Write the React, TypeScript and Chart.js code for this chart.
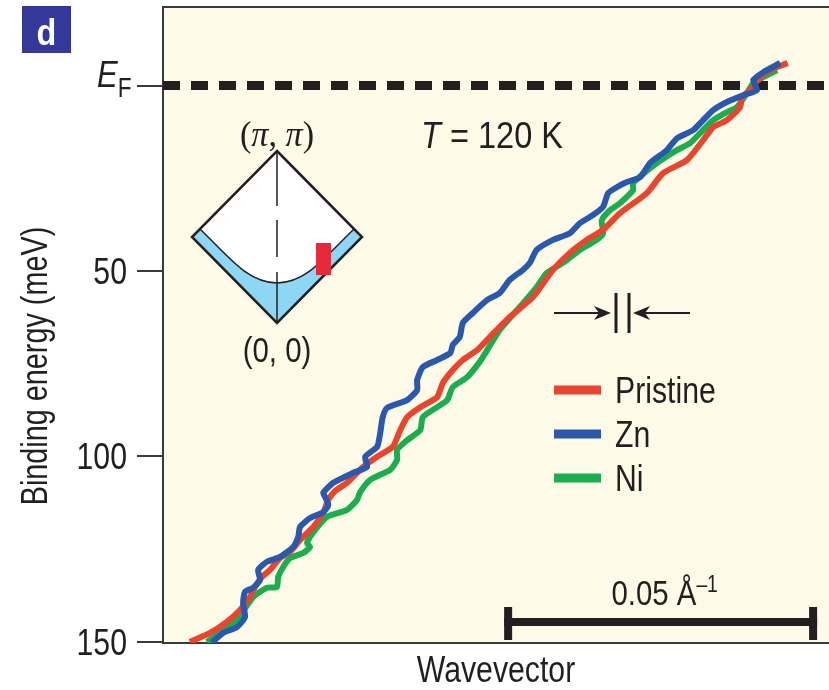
import React, { useEffect, useRef } from 'react';
import { Chart, registerables } from 'chart.js';

Chart.register(...registerables);

// Wavevector k in units of 1e-3 Å^-1 (arbitrary origin); binding energy in meV
const pristineK = [4.3, 7.5, 10.2, 12.3, 13.9, 14.7, 15.8, 17.1, 18.7, 20.3, 21.9, 24.0, 25.6, 26.4, 27.5, 29.4, 32.0, 34.2, 36.7, 37.9, 39.0, 41.1, 43.8, 44.7, 46.3, 47.9, 50.2, 52.2, 55.4, 59.1, 62.3, 65.0, 67.7, 70.3, 73.0, 77.3, 79.9, 83.7, 86.3, 87.9, 90.1, 92.2, 92.5, 93.8, 95.4, 97.0, 99.8];
const pristineE = [150.0, 147.6, 144.6, 141.4, 137.9, 135.2, 132.5, 130.6, 127.4, 125.7, 122.5, 119.0, 115.2, 111.7, 109.3, 107.1, 102.8, 100.1, 97.4, 92.9, 89.4, 86.7, 84.0, 80.2, 76.7, 74.0, 71.3, 67.8, 62.4, 57.0, 49.7, 45.1, 41.6, 38.9, 34.4, 29.0, 23.6, 20.1, 14.7, 11.2, 9.3, 5.8, 3.1, 1.2, -2.3, -4.2, -6.1];

const znK = [7.8, 9.6, 11.8, 13.1, 12.8, 13.1, 14.4, 15.5, 15.2, 16.6, 18.7, 20.8, 21.6, 21.9, 23.5, 25.6, 26.4, 25.9, 25.6, 27.2, 30.4, 32.6, 32.3, 34.2, 34.7, 35.1, 35.8, 39.0, 40.6, 40.6, 41.5, 43.8, 45.9, 46.3, 47.4, 47.9, 49.5, 51.8, 53.8, 55.4, 57.5, 58.6, 59.7, 62.3, 65.0, 66.6, 68.7, 70.3, 71.1, 72.5, 74.1, 76.2, 77.8, 80.5, 82.1, 84.7, 86.3, 87.9, 90.1, 92.7, 94.9, 94.3, 95.9, 98.6];
const znE = [150.2, 147.6, 146.0, 143.3, 139.5, 136.5, 135.4, 133.3, 130.6, 128.4, 127.1, 124.4, 121.7, 119.0, 116.6, 115.0, 113.1, 110.9, 109.8, 107.1, 104.4, 102.8, 100.1, 97.4, 93.7, 89.4, 86.9, 84.8, 82.1, 79.4, 75.9, 74.0, 72.1, 69.9, 67.8, 64.0, 61.3, 57.8, 55.9, 52.4, 49.7, 47.8, 44.3, 41.6, 39.8, 37.1, 34.9, 32.7, 29.0, 27.4, 26.0, 24.7, 20.9, 17.4, 14.2, 12.0, 9.3, 6.6, 4.4, 2.6, 1.2, -1.5, -3.6, -6.1];

const niK = [7.0, 9.1, 11.2, 12.6, 14.4, 16.6, 18.2, 18.4, 19.2, 20.3, 22.4, 23.5, 23.0, 24.3, 26.2, 29.4, 31.0, 31.5, 33.1, 36.3, 37.4, 37.4, 39.0, 41.1, 41.5, 43.8, 45.4, 46.3, 48.6, 50.6, 51.8, 53.8, 57.0, 59.7, 61.3, 63.9, 66.6, 69.3, 70.3, 70.1, 71.4, 73.0, 75.1, 75.1, 78.9, 82.1, 84.2, 85.8, 87.9, 89.8, 91.7, 93.3, 94.3, 95.9, 98.1];
const niE = [150.0, 147.6, 144.9, 142.2, 137.9, 135.4, 135.2, 132.5, 129.8, 127.4, 126.0, 124.4, 123.3, 119.8, 116.3, 114.4, 111.7, 109.6, 106.3, 103.6, 100.9, 98.2, 95.6, 92.9, 89.4, 86.7, 84.8, 81.3, 78.6, 74.5, 71.3, 65.9, 59.7, 54.3, 50.5, 47.8, 44.3, 41.6, 39.8, 36.3, 33.6, 31.7, 28.2, 26.3, 20.9, 17.4, 15.5, 12.8, 9.3, 7.4, 5.8, 2.0, -0.7, -2.3, -4.2];

const seriesNames = ['Pristine', 'Zn', 'Ni'];
const seriesColors = ['#e9442e', '#2a58ad', '#1cae4e'];
const yTicks = [0, 50, 100, 150];
const yTickLabels = ['', '50', '100', '150'];
const yMin = -21.2;
const yMax = 150.3;
const kMax = 106.4;
const scaleBarStart = 54.5; // 1e-3 Å^-1
const scaleBarLength = 50; // = 0.05 Å^-1

const SANS = "'Liberation Sans', Arial, sans-serif";
const SERIF = "'Liberation Serif', 'DejaVu Serif', serif";
const INK = '#231f20';
const SQUEEZE = 0.84; // condensed look

type Run = { text: string; font: string; dy?: number };

function drawRuns(
  ctx: CanvasRenderingContext2D,
  runs: Run[],
  x: number,
  y: number,
  align: 'left' | 'center' | 'right',
  sx: number = SQUEEZE,
  baseline: CanvasTextBaseline = 'alphabetic'
) {
  ctx.save();
  ctx.textAlign = 'left';
  ctx.textBaseline = baseline;
  const widths = runs.map((r) => {
    ctx.font = r.font;
    return ctx.measureText(r.text).width;
  });
  const total = widths.reduce((s, w) => s + w, 0);
  ctx.translate(x, y);
  ctx.scale(sx, 1);
  let cx = align === 'center' ? -total / 2 : align === 'right' ? -total : 0;
  runs.forEach((r, i) => {
    ctx.font = r.font;
    ctx.fillText(r.text, cx, r.dy || 0);
    cx += widths[i];
  });
  ctx.restore();
}

function drawInset(ctx: CanvasRenderingContext2D) {
  const cx = 277, cy = 237, hw = 85, hh = 86;
  ctx.save();
  ctx.beginPath();
  ctx.moveTo(cx, cy - hh);
  ctx.lineTo(cx + hw, cy);
  ctx.lineTo(cx, cy + hh);
  ctx.lineTo(cx - hw, cy);
  ctx.closePath();
  ctx.fillStyle = '#ffffff';
  ctx.fill();
  ctx.beginPath();
  ctx.moveTo(cx - 77, cy - 8);
  ctx.bezierCurveTo(cx - 47, cy + 21, cx - 29, cy + 46, cx, cy + 46);
  ctx.bezierCurveTo(cx + 29, cy + 46, cx + 47, cy + 21, cx + 77, cy - 8);
  ctx.lineTo(cx + hw, cy);
  ctx.lineTo(cx, cy + hh);
  ctx.lineTo(cx - hw, cy);
  ctx.closePath();
  ctx.fillStyle = '#8dd7f5';
  ctx.fill();
  ctx.beginPath();
  ctx.moveTo(cx - 77, cy - 8);
  ctx.bezierCurveTo(cx - 47, cy + 21, cx - 29, cy + 46, cx, cy + 46);
  ctx.bezierCurveTo(cx + 29, cy + 46, cx + 47, cy + 21, cx + 77, cy - 8);
  ctx.strokeStyle = INK;
  ctx.lineWidth = 1.5;
  ctx.stroke();
  ctx.lineWidth = 1.5;
  [[cy - hh, cy - 31], [cy - 17, cy + 20], [cy + 35, cy + hh]].forEach(([a, b]) => {
    ctx.beginPath();
    ctx.moveTo(cx, a);
    ctx.lineTo(cx, b);
    ctx.stroke();
  });
  ctx.beginPath();
  ctx.moveTo(cx, cy - hh);
  ctx.lineTo(cx + hw, cy);
  ctx.lineTo(cx, cy + hh);
  ctx.lineTo(cx - hw, cy);
  ctx.closePath();
  ctx.lineWidth = 2.5;
  ctx.lineJoin = 'miter';
  ctx.stroke();
  ctx.fillStyle = '#e52a3a';
  ctx.fillRect(cx + 39, cy + 6, 15, 32);
  ctx.fillStyle = INK;
  drawRuns(ctx, [
    { text: '(', font: `36px ${SERIF}` },
    { text: 'π', font: `italic 36px ${SERIF}` },
    { text: ', ', font: `36px ${SERIF}` },
    { text: 'π', font: `italic 36px ${SERIF}` },
    { text: ')', font: `36px ${SERIF}` },
  ], cx, cy - 91, 'center', 0.95);
  drawRuns(ctx, [{ text: '(0, 0)', font: `35px ${SANS}` }], cx, cy + 125, 'center');
  ctx.restore();
}

function arrowHead(ctx: CanvasRenderingContext2D, tipX: number, y: number, dir: number) {
  ctx.beginPath();
  ctx.moveTo(tipX, y);
  ctx.lineTo(tipX - dir * 17, y - 7);
  ctx.lineTo(tipX - dir * 12, y);
  ctx.lineTo(tipX - dir * 17, y + 7);
  ctx.closePath();
  ctx.fill();
}

const decorPlugin = {
  id: 'decor',
  beforeDraw(chart: any) {
    const { ctx, chartArea: a } = chart;
    ctx.save();
    ctx.fillStyle = '#fefae8';
    ctx.fillRect(a.left, a.top, a.right - a.left, a.bottom - a.top);
    ctx.restore();
  },
  beforeDatasetsDraw(chart: any) {
    const { ctx, chartArea: a, scales } = chart;
    const y0 = scales.y.getPixelForValue(0);
    ctx.save();
    ctx.strokeStyle = INK;
    ctx.lineWidth = 9;
    ctx.setLineDash([17, 11]);
    ctx.beginPath();
    ctx.moveTo(a.left, y0);
    ctx.lineTo(a.right, y0);
    ctx.stroke();
    ctx.restore();
    drawInset(ctx);
  },
  afterDraw(chart: any) {
    const { ctx, chartArea: a, scales } = chart;
    const ys = scales.y;
    const y0 = ys.getPixelForValue(0);
    ctx.save();
    ctx.strokeStyle = '#3a3a3a';
    ctx.lineWidth = 2;
    ctx.beginPath();
    ctx.moveTo(a.left, a.top);
    ctx.lineTo(a.right, a.top);
    ctx.stroke();

    // y tick labels from the scale's ticks
    ctx.fillStyle = INK;
    ys.ticks.forEach((t: any) => {
      const idx = yTicks.indexOf(t.value);
      const label = idx >= 0 ? yTickLabels[idx] : '';
      if (!label) return;
      drawRuns(ctx, [{ text: label, font: `36px ${SANS}` }], a.left - 36, ys.getPixelForValue(t.value) + 13, 'right');
    });

    // panel label
    ctx.fillStyle = '#34389b';
    ctx.fillRect(22, 6, 49, 47);
    ctx.fillStyle = '#ffffff';
    drawRuns(ctx, [{ text: 'd', font: `bold 36px ${SANS}` }], 46.5, 45, 'center', 0.9);

    ctx.fillStyle = INK;
    drawRuns(ctx, [
      { text: 'E', font: `italic 37px ${SANS}` },
      { text: 'F', font: `27px ${SANS}`, dy: 10 },
    ], 97, y0 + 1, 'left');

    drawRuns(ctx, [
      { text: 'T', font: `italic 37px ${SANS}` },
      { text: ' = 120 K', font: `37px ${SANS}` },
    ], 421, 148, 'left', 0.88);

    // resolution arrows
    ctx.strokeStyle = INK;
    ctx.lineWidth = 2;
    const ay = 313;
    ctx.beginPath();
    ctx.moveTo(554, ay);
    ctx.lineTo(600, ay);
    ctx.moveTo(690, ay);
    ctx.lineTo(645, ay);
    ctx.stroke();
    arrowHead(ctx, 611, ay, 1);
    arrowHead(ctx, 633, ay, -1);
    ctx.lineWidth = 3;
    ctx.beginPath();
    ctx.moveTo(616, 293);
    ctx.lineTo(616, 333);
    ctx.moveTo(629, 293);
    ctx.lineTo(629, 333);
    ctx.stroke();

    // legend
    seriesNames.forEach((name, i) => {
      const ly = 390 + 44 * i;
      ctx.strokeStyle = seriesColors[i];
      ctx.lineWidth = 9;
      ctx.beginPath();
      ctx.moveTo(554, ly);
      ctx.lineTo(601, ly);
      ctx.stroke();
      ctx.fillStyle = INK;
      drawRuns(ctx, [{ text: name, font: `36px ${SANS}` }], 615, ly + 13, 'left');
    });

    // scale bar
    const x0 = scales.x.getPixelForValue(scaleBarStart);
    const x1 = scales.x.getPixelForValue(scaleBarStart + scaleBarLength);
    ctx.fillStyle = INK;
    ctx.fillRect(x0, 618, x1 - x0, 8);
    ctx.fillRect(x0, 607, 8, 33);
    ctx.fillRect(x1 - 8, 607, 8, 33);
    drawRuns(ctx, [
      { text: '0.05 Å', font: `35px ${SANS}` },
      { text: '–1', font: `23px ${SANS}`, dy: -13 },
    ], (x0 + x1) / 2 + 4, 605, 'center');

    // axis titles
    drawRuns(ctx, [{ text: 'Wavevector', font: `36px ${SANS}` }], (a.left + a.right) / 2, 682, 'center');
    ctx.save();
    ctx.translate(37, 366);
    ctx.rotate(-Math.PI / 2);
    drawRuns(ctx, [{ text: 'Binding energy (meV)', font: `36px ${SANS}` }], 0, 0, 'center', 0.8, 'middle');
    ctx.restore();

    ctx.restore();
  },
};

function zip(k: number[], e: number[]) {
  return k.map((x, i) => ({ x, y: e[i] }));
}

export default function App() {
  const ref = useRef<HTMLCanvasElement | null>(null);
  useEffect(() => {
    if (!ref.current) return;
    const line = (i: number, k: number[], e: number[], order: number) => ({
      label: seriesNames[i],
      data: zip(k, e),
      borderColor: seriesColors[i],
      backgroundColor: seriesColors[i],
      borderWidth: 6,
      pointRadius: 0,
      tension: 0.2,
      fill: false,
      order,
    });
    const chart = new Chart(ref.current, {
      type: 'line',
      data: {
        datasets: [
          line(1, znK, znE, 0),
          line(0, pristineK, pristineE, 1),
          line(2, niK, niE, 2),
        ],
      },
      options: {
        responsive: false,
        animation: false,
        layout: { padding: { top: 7, left: 0, right: 0, bottom: 0 } },
        plugins: {
          legend: { display: false },
          tooltip: { enabled: false },
          title: { display: false },
        },
        scales: {
          x: {
            type: 'linear',
            min: 0,
            max: kMax,
            ticks: { display: false },
            grid: { display: false, drawTicks: false },
            border: { display: true, color: '#3a3a3a', width: 2 },
            afterFit(s: any) {
              s.height = 47;
              s.paddingLeft = 0;
              s.paddingRight = 0;
            },
          },
          y: {
            type: 'linear',
            reverse: true,
            min: yMin,
            max: yMax,
            afterBuildTicks(s: any) {
              s.ticks = yTicks.map((v) => ({ value: v }));
            },
            ticks: { display: false },
            grid: {
              display: true,
              drawOnChartArea: false,
              drawTicks: true,
              tickLength: 26,
              color: '#3a3a3a',
              lineWidth: 2,
            },
            border: { display: true, color: '#3a3a3a', width: 2 },
            afterFit(s: any) {
              s.width = 163;
              s.paddingTop = 0;
              s.paddingBottom = 0;
            },
          },
        },
      } as any,
      plugins: [decorPlugin],
    });
    return () => chart.destroy();
  }, []);
  return (
    <div style={{ position: 'fixed', left: 0, top: 0, width: 829, height: 690, background: '#ffffff' }}>
      <canvas ref={ref} width={829} height={690} style={{ display: 'block' }} />
    </div>
  );
}
